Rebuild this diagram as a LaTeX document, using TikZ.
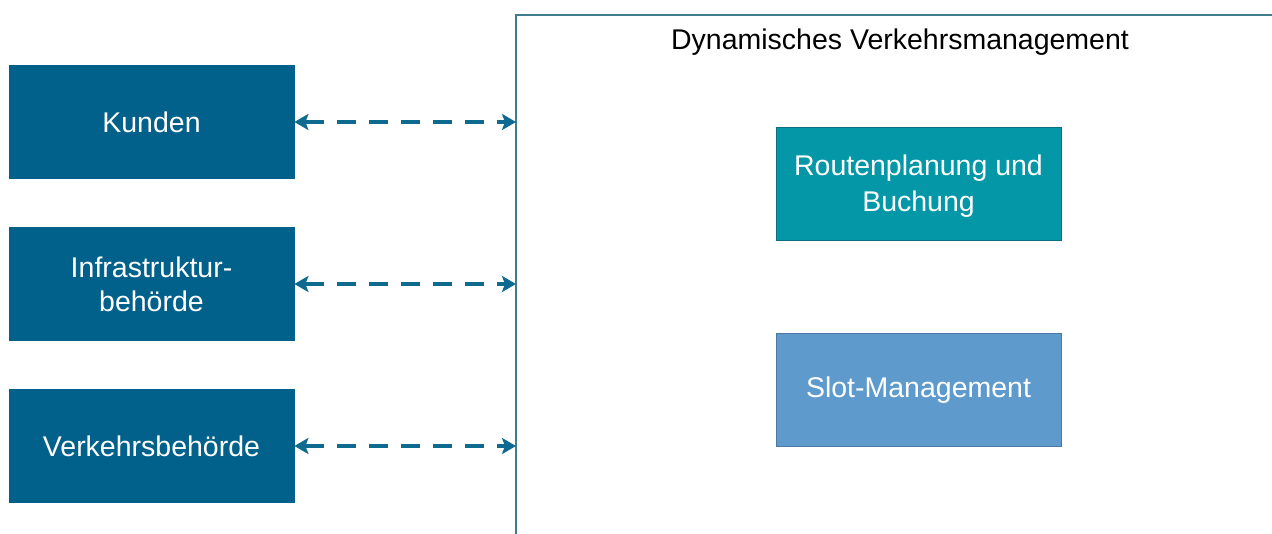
\documentclass[tikz,border=0pt]{standalone}
\usepackage{fontspec}
\setmainfont{Liberation Sans}
\usetikzlibrary{arrows.meta}
\definecolor{darkblue}{HTML}{01618A}
\definecolor{tealbox}{HTML}{0497A8}
\definecolor{tealedge}{HTML}{0B6E7C}
\definecolor{slotblue}{HTML}{5F9ACD}
\definecolor{slotedge}{HTML}{4A79A8}
\definecolor{framecol}{HTML}{3F7C8C}
\definecolor{arrowcol}{HTML}{0E6A8E}
\tikzset{
  leftbox/.style={draw=darkblue, fill=darkblue, line width=0.8pt, minimum width=285pt, minimum height=113pt, inner sep=0pt, text=white, align=center, font=\fontsize{28.5}{34}\selectfont},
  rbox/.style={line width=0.8pt, minimum width=285pt, minimum height=113pt, inner sep=0pt},
  rtext/.style={text=white, align=center, inner sep=0pt, font=\fontsize{28.5}{36}\selectfont},
  link/.style={draw=arrowcol, line width=4pt, dash pattern=on 19pt off 13pt, {Stealth[length=14pt,width=16pt,inset=3pt]}-{Stealth[length=14pt,width=16pt,inset=3pt]}}
}
\begin{document}
\begin{tikzpicture}[x=1pt,y=-1pt]
\useasboundingbox (0,0) rectangle (1272,534);
\coordinate (ftl) at (516,15);
\coordinate (fbl) at (516,534);
\coordinate (ftr) at (1272,15);
\draw[framecol, line width=2pt] (fbl) -- (ftl) -- (ftr);
\node[font=\fontsize{28.5}{34}\selectfont, anchor=center] (title) at (900,42) {Dynamisches Verkehrsmanagement};
\node[leftbox] (kunden) at (151.5,122) {Kunden};
\node[leftbox] (infra) at (151.5,284) {Infrastruktur-\\behörde};
\node[leftbox] (verkehr) at (151.5,446) {Verkehrsbehörde};
\node[rbox, draw=tealedge, fill=tealbox] (routen) at (918.5,183.5) {};
\node[rtext] (routentext) at ([yshift=-3pt]routen.center) {Routenplanung und\\Buchung};
\node[rbox, draw=slotedge, fill=slotblue] (slot) at (918.5,389.5) {};
\node[rtext] (slottext) at ([yshift=-1pt]slot.center) {Slot-Management};
\coordinate (e1) at (516,122);
\coordinate (e2) at (516,284);
\coordinate (e3) at (516,446);
\draw[link] (kunden.east |- e1) -- (e1);
\draw[link] (infra.east |- e2) -- (e2);
\draw[link] (verkehr.east |- e3) -- (e3);
\end{tikzpicture}
\end{document}
